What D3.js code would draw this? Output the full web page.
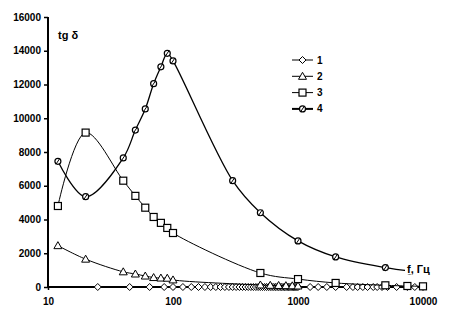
<!DOCTYPE html>
<html>
<head>
<meta charset="utf-8">
<script src="https://cdn.jsdelivr.net/npm/d3@7"></script>
<style>
  body { margin: 0; background: #fff; }
  text { font-family: "Liberation Sans", Arial, sans-serif; }
</style>
</head>
<body>
<div class="chart"></div>
<script>
// series 1 (diamonds) - all near zero
var freq1 = [25, 45, 65, 85, 100, 120, 140, 160, 180, 200, 220, 240, 260, 280, 300, 320, 340, 360, 380, 400,
  420, 440, 460, 480, 500, 520, 540, 560, 580, 600, 620, 640, 660, 680, 700, 720, 740, 760, 780, 800,
  820, 840, 860, 880, 900, 920, 940, 960, 980, 1000, 1250, 1450, 1700, 2000, 2450, 2750, 3000, 3300,
  3600, 4000, 4300, 4700, 5200, 6150, 7500, 8600, 10000];
var vals1 = freq1.map(function () { return 0; });

// series 2 (triangles)
var freq2 = [12, 20, 40, 50, 60, 70, 80, 90, 100, 500, 600, 700, 800, 900, 1000];
var vals2 = [2450, 1650, 900, 770, 650, 560, 530, 520, 420, 120, 100, 90, 80, 70, 60];

// series 3 (squares)
var freq3 = [12, 20, 40, 50, 60, 70, 80, 90, 100, 500, 1000, 2000, 5000, 7500, 10000];
var vals3 = [4800, 9150, 6300, 5400, 4700, 4150, 3800, 3500, 3200, 830, 470, 240, 100, 60, 40];

// series 4 (circles), last point sits under the "f, Гц" label
var freq4 = [12, 20, 40, 50, 60, 70, 80, 90, 100, 300, 500, 1000, 2000, 5000, 7800];
var vals4 = [7450, 5350, 7650, 9300, 10550, 12050, 13050, 13850, 13400, 6300, 4400, 2730, 1780, 1150, 950];

var xTicks = [10, 100, 1000, 10000];
var yTicks = [0, 2000, 4000, 6000, 8000, 10000, 12000, 14000, 16000];
var legendNames = ["1", "2", "3", "4"];

var W = 472, H = 316;
var svg = d3.select("div.chart").append("svg").attr("width", W).attr("height", H);

var x = d3.scaleLog().domain([10, 10000]).range([48, 423]);
var y = d3.scaleLinear().domain([0, 16000]).range([287, 17]);

var series = [
  { name: "1", f: freq1, v: vals1, marker: "diamond", width: 1 },
  { name: "2", f: freq2, v: vals2, marker: "triangle", width: 1 },
  { name: "3", f: freq3, v: vals3, marker: "square", width: 1 },
  { name: "4", f: freq4, v: vals4, marker: "circle", width: 1.3 }
];

// axes
var yAxis = svg.append("g")
  .attr("transform", "translate(48,0)")
  .call(d3.axisLeft(y).tickValues(yTicks).tickSize(4).tickPadding(3).tickFormat(d3.format("d")));
var xAxis = svg.append("g")
  .attr("transform", "translate(0,287)")
  .call(d3.axisBottom(x).tickValues(xTicks).tickSize(3).tickPadding(8).tickFormat(d3.format("d")));
[yAxis, xAxis].forEach(function (a) {
  a.select(".domain").attr("stroke", "#000").attr("stroke-width", 2);
  a.selectAll(".tick line").attr("stroke", "#000").attr("stroke-width", 1.5);
  a.selectAll("text").attr("fill", "#000").style("font-size", "10px").style("font-weight", "bold");
});
yAxis.select(".domain").attr("d", "M0,287V17");
xAxis.select(".domain").attr("d", "M48,0H423");

var line = d3.line().curve(d3.curveCatmullRom.alpha(0.5))
  .x(function (d) { return x(d[0]); })
  .y(function (d) { return y(d[1]); });

function drawMarker(g, type, cx, cy) {
  if (type === "diamond") {
    g.append("path").attr("d", "M" + cx + "," + (cy - 3.5) + "L" + (cx + 3.5) + "," + cy + "L" + cx + "," + (cy + 3.5) + "L" + (cx - 3.5) + "," + cy + "Z")
      .attr("fill", "#fff").attr("stroke", "#000").attr("stroke-width", 1);
  } else if (type === "triangle") {
    g.append("path").attr("d", "M" + cx + "," + (cy - 4) + "L" + (cx + 4) + "," + (cy + 3) + "L" + (cx - 4) + "," + (cy + 3) + "Z")
      .attr("fill", "#fff").attr("stroke", "#000").attr("stroke-width", 1);
  } else if (type === "square") {
    g.append("rect").attr("x", cx - 3.5).attr("y", cy - 3.5).attr("width", 7).attr("height", 7)
      .attr("fill", "#fff").attr("stroke", "#000").attr("stroke-width", 1.2);
  } else {
    g.append("circle").attr("cx", cx).attr("cy", cy).attr("r", 3)
      .attr("fill", "#fff").attr("stroke", "#000").attr("stroke-width", 1.2);
    g.append("line").attr("x1", cx - 2).attr("y1", cy + 3).attr("x2", cx + 2).attr("y2", cy - 3)
      .attr("stroke", "#000").attr("stroke-width", 1);
  }
}

series.forEach(function (s) {
  var pts = s.f.map(function (f, i) { return [f, s.v[i]]; });
  svg.append("path").datum(pts).attr("d", line)
    .attr("fill", "none").attr("stroke", "#000").attr("stroke-width", s.width);
  var g = svg.append("g");
  pts.forEach(function (p) { drawMarker(g, s.marker, x(p[0]), y(p[1])); });
});

// legend
var lg = svg.append("g");
series.forEach(function (s, i) {
  var ly = 60 + i * 16.3;
  lg.append("line").attr("x1", 292).attr("x2", 313).attr("y1", ly).attr("y2", ly)
    .attr("stroke", "#000").attr("stroke-width", s.name === "4" ? 2 : 1);
  drawMarker(lg, s.marker, 302.5, ly);
  lg.append("text").attr("x", 317).attr("y", ly + 3.5).text(legendNames[i])
    .style("font-size", "10px").style("font-weight", "bold");
});

// axis titles
svg.append("text").attr("x", 58).attr("y", 39).text("tg δ")
  .style("font-size", "11px").style("font-weight", "bold");
var fl = svg.append("g");
fl.append("rect").attr("x", 405).attr("y", 262).attr("width", 32).attr("height", 12).attr("fill", "#fff");
fl.append("text").attr("x", 407).attr("y", 273).text("f, Гц")
  .style("font-size", "11px").style("font-weight", "bold");
</script>
</body>
</html>
